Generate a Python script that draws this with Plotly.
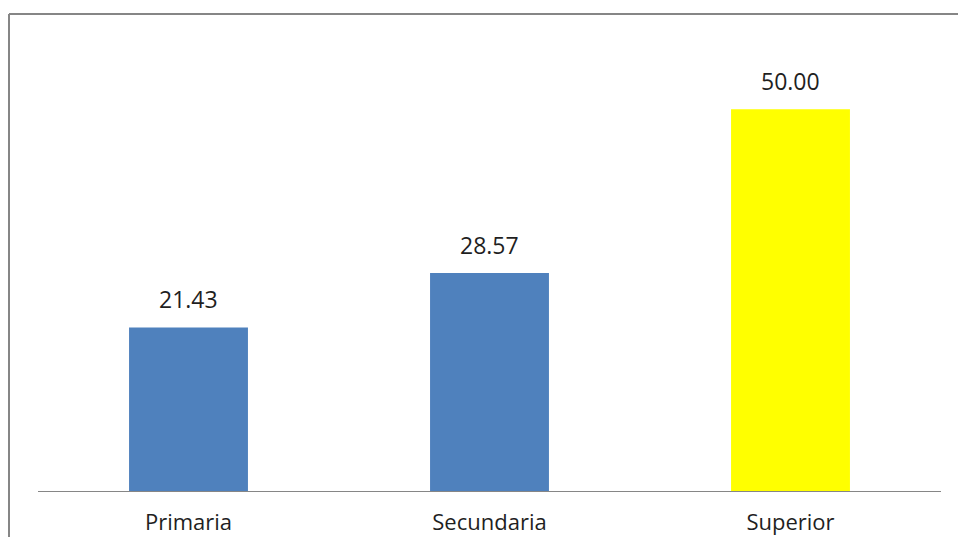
import plotly.graph_objects as go

categories = ["Primaria", "Secundaria", "Superior"]
values = [21.43, 28.57, 50.00]
bar_colors = ["#4F81BD", "#4F81BD", "#FFFF00"]
value_labels = [f"{v:.2f}" for v in values]

W, H = 958, 537
ml, mr, mt, mb = 38, 17, 33, 46
pw = W - ml - mr
ph = H - mt - mb

fig = go.Figure()
fig.add_trace(go.Bar(
    x=categories, y=values, marker=dict(color=bar_colors, line=dict(width=0)),
    width=0.395, hoverinfo="skip",
))

for c, v, t in zip(categories, values, value_labels):
    fig.add_annotation(x=c, y=v, text=t, showarrow=False, yanchor="bottom",
                       yshift=10, font=dict(family="Open Sans", size=23, color="#1f1f1f"))

def px_x(p):
    return (p - ml) / pw

def px_y(p):
    return (H - mb - p) / ph

border = dict(color="#868686", width=2)
fig.add_shape(type="line", xref="paper", yref="paper", x0=px_x(9), x1=px_x(W + 5),
              y0=px_y(14), y1=px_y(14), line=border)
fig.add_shape(type="line", xref="paper", yref="paper", x0=px_x(9), x1=px_x(9),
              y0=px_y(14), y1=px_y(H + 5), line=border)

fig.update_layout(
    width=W, height=H, margin=dict(l=ml, r=mr, t=mt, b=mb, autoexpand=False),
    paper_bgcolor="white", plot_bgcolor="white", showlegend=False,
    xaxis=dict(showline=True, linecolor="#868686", linewidth=1, ticks="",
               tickfont=dict(family="Open Sans", size=22, color="#1f1f1f"),
               ticklabelstandoff=12, showgrid=False),
    yaxis=dict(range=[0, 60], visible=False, showgrid=False, zeroline=False),
)

fig.write_html("out.html")
